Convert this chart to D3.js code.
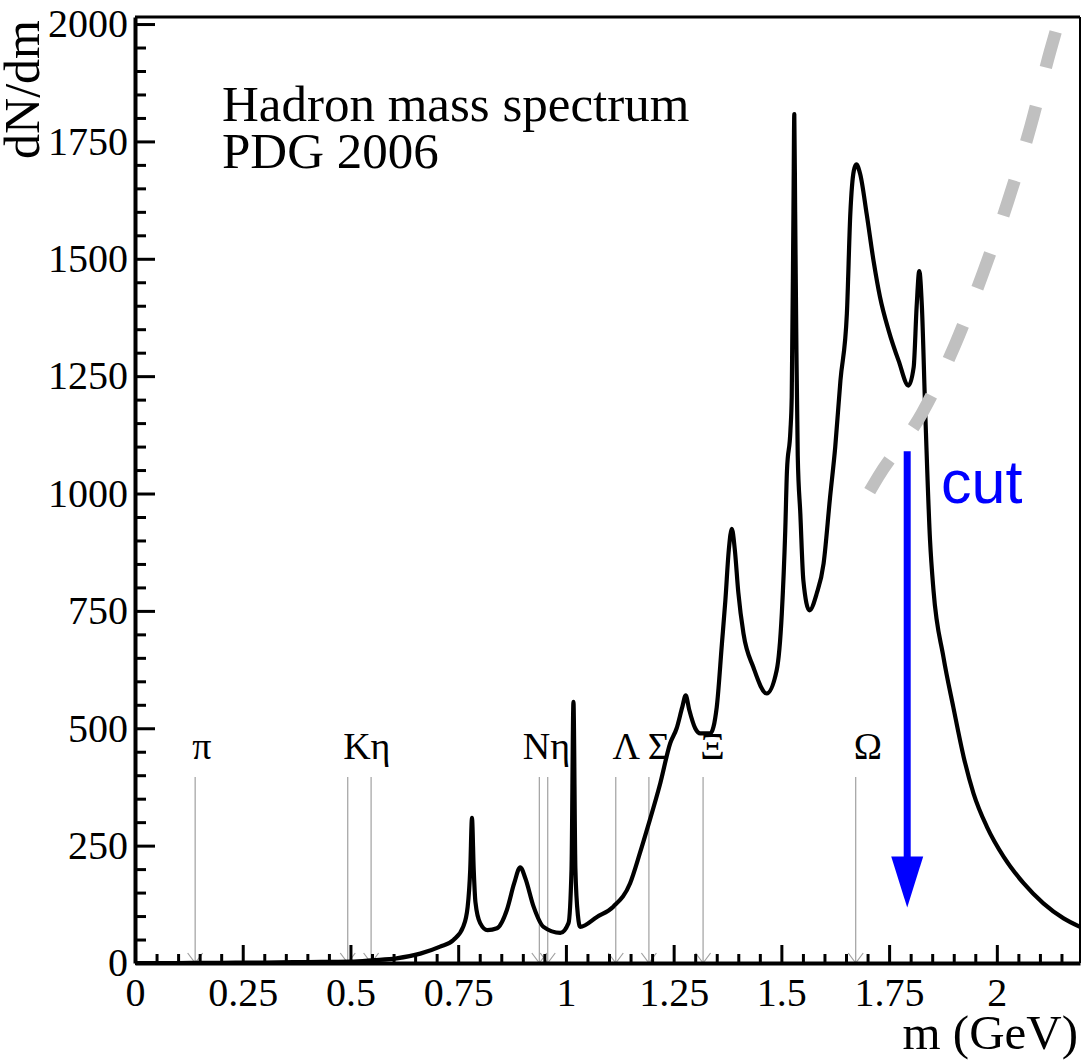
<!DOCTYPE html>
<html>
<head>
<meta charset="utf-8">
<script src="https://cdn.jsdelivr.net/npm/d3@7"></script>
<style>
  body { margin: 0; background: #fff; }
  svg { display: block; }
</style>
</head>
<body>
<svg id="chart" width="1081" height="1060"></svg>
<script>
// Hadron mass spectrum dN/dm (GeV^-1), smeared resonance sum
const mass = [
  0.00, 0.10, 0.20, 0.30, 0.40, 0.50, 0.553, 0.607, 0.662, 0.708, 0.739, 0.762,
  0.772, 0.778, 0.782, 0.786, 0.790, 0.801, 0.818, 0.840, 0.863, 0.880, 0.894,
  0.906, 0.925, 0.948, 0.987, 1.006, 1.013, 1.0175, 1.022, 1.028, 1.033, 1.072,
  1.110, 1.149, 1.172, 1.190, 1.219, 1.242, 1.257, 1.270, 1.278, 1.286, 1.300,
  1.312, 1.335, 1.350, 1.362, 1.370, 1.378, 1.385, 1.392, 1.400, 1.412, 1.435,
  1.466, 1.489, 1.501, 1.509, 1.513, 1.521, 1.524, 1.528, 1.530, 1.532, 1.535,
  1.538, 1.544, 1.551, 1.565, 1.582, 1.598, 1.613, 1.625, 1.637, 1.652, 1.660,
  1.668, 1.674, 1.683, 1.698, 1.714, 1.729, 1.749, 1.772, 1.795, 1.807, 1.814,
  1.820, 1.826, 1.834, 1.845, 1.853, 1.876, 1.899, 1.923, 1.946, 1.977, 2.016,
  2.062, 2.108, 2.155, 2.193
];
const density = [
  0, 0, 0.5, 1, 2, 3, 6, 10, 20, 35, 49, 78,
  120, 200, 309, 200, 130, 85, 70, 74, 113, 170, 204,
  180, 120, 77, 64, 85, 200, 556, 200, 100, 77, 98,
  120, 170, 235, 290, 383, 468, 500, 545, 570, 540, 500,
  489, 489, 545, 680, 772, 880, 925, 880, 790, 702, 630,
  574, 623, 744, 921, 1049, 1134, 1205, 1600, 1808, 1600, 1300,
  1080, 957, 815, 751, 787, 851, 992, 1099, 1240, 1383, 1596,
  1687, 1701, 1680, 1595, 1495, 1418, 1347, 1283, 1230, 1269, 1400,
  1474, 1400, 1170, 900, 794, 652, 545, 439, 361, 290, 226,
  170, 127, 95, 77
];

// Exponential-like growth reference curve
const fitMass    = [1.705, 1.725, 1.827, 1.903, 1.968, 2.026, 2.078, 2.124, 2.137];
const fitDensity = [1005, 1036, 1172, 1317, 1470, 1623, 1781, 1943, 1985];

// Ground-state hadron masses (GeV)
const particleMass = [0.1396, 0.4937, 0.5479, 0.9383, 0.9578, 1.1157, 1.1926, 1.3183, 1.6725];

// Marker captions and the mass at which each caption starts
const labelText = ["π", "Kη", "Nη", "Λ", "Σ", "Ξ", "Ω"];
const labelMass = [0.133, 0.483, 0.900, 1.108, 1.190, 1.312, 1.668];

const xMajorTicks = [0, 0.25, 0.5, 0.75, 1, 1.25, 1.5, 1.75, 2];
const yMajorTicks = [0, 250, 500, 750, 1000, 1250, 1500, 1750, 2000];

const cutMass = 1.792;
const cutSpan = [1090, 118];

const markerTop = 396;
const labelLevel = 434;

const svg = d3.select("#chart");
const serif = "'Liberation Serif', 'Times New Roman', serif";
const sans = "'Liberation Sans', Arial, sans-serif";

const x = d3.scaleLinear().domain([0, 2.193]).range([135, 1080]);
const y = d3.scaleLinear().domain([0, 2015]).range([963, 17]);

const xMinor = d3.range(0, 2.1901, 0.05).filter(v => Math.abs(v / 0.25 - Math.round(v / 0.25)) > 1e-6);
const yMinor = d3.range(0, 2001, 50).filter(v => v % 250 !== 0);

// Frame (top and right)
svg.append("line").attr("x1", x(0)).attr("x2", x(2.193)).attr("y1", y(2015)).attr("y2", y(2015))
  .attr("stroke", "#000").attr("stroke-width", 3);
svg.append("line").attr("x1", x(2.193)).attr("x2", x(2.193)).attr("y1", y(2015)).attr("y2", y(0))
  .attr("stroke", "#000").attr("stroke-width", 2);

// Particle mass markers: thin grey lines ending in open arrowheads on the axis
const markers = svg.append("g").attr("stroke", "#a0a0a0").attr("stroke-width", 1.2).attr("fill", "none");
particleMass.forEach(m => {
  markers.append("line").attr("x1", x(m)).attr("x2", x(m)).attr("y1", y(markerTop)).attr("y2", y(0));
  markers.append("path").attr("d", `M${x(m) - 7.5},${y(0) - 10}L${x(m)},${y(0)}L${x(m) + 7.5},${y(0) - 10}`);
});

labelText.forEach((t, i) => {
  svg.append("text").attr("x", x(labelMass[i])).attr("y", y(labelLevel))
    .attr("font-family", serif).attr("font-size", 38).attr("fill", "#000").text(t);
});

// Axes with inward ticks
const xAxis = svg.append("g").attr("transform", `translate(0,${y(0)})`)
  .call(d3.axisBottom(x).tickValues(xMajorTicks).tickSize(-18).tickSizeOuter(0).tickPadding(15)
    .tickFormat(d => String(d)));
const xAxisMinor = svg.append("g").attr("transform", `translate(0,${y(0)})`)
  .call(d3.axisBottom(x).tickValues(xMinor).tickSize(-9).tickSizeOuter(0).tickFormat(""));
const yAxis = svg.append("g").attr("transform", `translate(${x(0)},0)`)
  .call(d3.axisLeft(y).tickValues(yMajorTicks).tickSize(-20).tickSizeOuter(0).tickPadding(7)
    .tickFormat(d3.format("d")));
const yAxisMinor = svg.append("g").attr("transform", `translate(${x(0)},0)`)
  .call(d3.axisLeft(y).tickValues(yMinor).tickSize(-11).tickSizeOuter(0).tickFormat(""));

[xAxis, xAxisMinor, yAxis, yAxisMinor].forEach(g => {
  g.select(".domain").attr("stroke", "#000").attr("stroke-width", 4);
  g.selectAll(".tick line").attr("stroke", "#000").attr("stroke-width", 3);
  g.selectAll(".tick text").attr("font-family", serif).attr("font-size", 40).attr("fill", "#000");
});
xAxisMinor.select(".domain").remove();
yAxisMinor.select(".domain").remove();

// Spectrum curve
const line = d3.line().x(i => x(mass[i])).y(i => y(density[i])).curve(d3.curveMonotoneX);
svg.append("path").attr("d", line(d3.range(mass.length)))
  .attr("fill", "none").attr("stroke", "#000").attr("stroke-width", 4.2)
  .attr("stroke-linejoin", "round");

// Grey dashed growth curve
const fitLine = d3.line().x(i => x(fitMass[i])).y(i => y(fitDensity[i])).curve(d3.curveMonotoneX);
svg.append("path").attr("d", fitLine(d3.range(fitMass.length)))
  .attr("fill", "none").attr("stroke", "#c0c0c0").attr("stroke-width", 12.5)
  .attr("stroke-dasharray", "37,40");

// Cut arrow
const cx = x(cutMass);
svg.append("line").attr("x1", cx).attr("x2", cx).attr("y1", y(cutSpan[0])).attr("y2", y(cutSpan[1]) - 46)
  .attr("stroke", "#0000ff").attr("stroke-width", 7);
svg.append("path")
  .attr("d", `M${cx - 16},${y(cutSpan[1]) - 51}L${cx + 16},${y(cutSpan[1]) - 51}L${cx},${y(cutSpan[1])}Z`)
  .attr("fill", "#0000ff");
svg.append("text").attr("x", 941).attr("y", 503)
  .attr("font-family", sans).attr("font-size", 61).attr("fill", "#0000ff").text("cut");

// Titles
svg.append("text").attr("x", 222).attr("y", 121).attr("font-family", serif).attr("font-size", 51)
  .text("Hadron mass spectrum");
svg.append("text").attr("x", 222).attr("y", 168).attr("font-family", serif).attr("font-size", 51)
  .text("PDG 2006");

svg.append("text").attr("transform", "translate(39,20) rotate(-90)").attr("text-anchor", "end")
  .attr("font-family", serif).attr("font-size", 50).text("dN/dm");
svg.append("text").attr("x", 1078).attr("y", 1049).attr("text-anchor", "end")
  .attr("font-family", serif).attr("font-size", 49).text("m (GeV)");
</script>
</body>
</html>
